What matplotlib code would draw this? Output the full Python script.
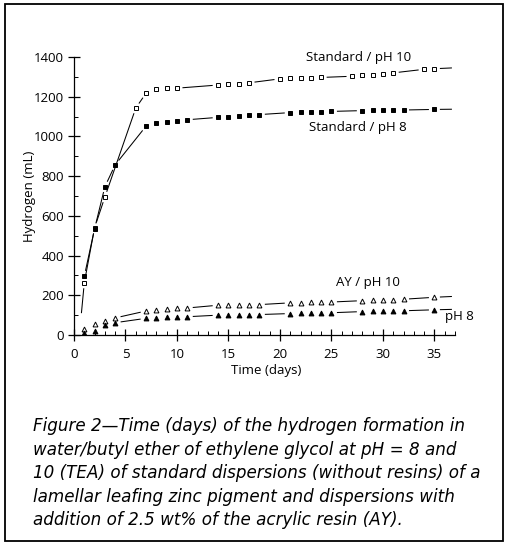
import numpy as np
import matplotlib
matplotlib.use("Agg")
import matplotlib.pyplot as plt
from matplotlib.patches import Rectangle
from matplotlib.ticker import MultipleLocator

# Hydrogen evolved (mL) versus time (days)
std10_day = [1, 2, 3, 6, 7, 8, 9, 10, 14, 15, 16, 17, 20, 21, 22, 23, 24,
             27, 28, 29, 30, 31, 34, 35]
std10 = [263, 540, 695, 1143, 1218, 1237, 1242, 1243, 1259, 1262, 1264, 1270,
         1290, 1292, 1292, 1293, 1297, 1303, 1307, 1310, 1315, 1320, 1338, 1341]

std8_day = [1, 2, 3, 4, 7, 8, 9, 10, 11, 14, 15, 16, 17, 18, 21, 22, 23, 24, 25,
            28, 29, 30, 31, 32, 35]
std8 = [296, 535, 747, 857, 1052, 1066, 1072, 1079, 1084, 1096, 1100, 1102,
        1108, 1110, 1120, 1122, 1122, 1124, 1126, 1130, 1133, 1135, 1133, 1133,
        1136]

ay_day = [1, 2, 3, 4, 7, 8, 9, 10, 11, 14, 15, 16, 17, 18, 21, 22, 23, 24, 25,
          28, 29, 30, 31, 32, 35]
ay10 = [32, 55, 72, 86, 121, 126, 131, 134, 136, 150, 150, 151, 152, 153,
        162, 163, 164, 165, 166, 173, 175, 176, 178, 180, 190]
ay8 = [8, 22, 49, 62, 84, 87, 89, 92, 92, 100, 101, 102, 102, 103,
       108, 109, 110, 111, 112, 118, 119, 120, 121, 122, 127]

# ends of the drawn trend curves beyond the measured points
curve_end_day = 36.7
curve_end = {"std10": 1345, "std8": 1137, "ay10": 194, "ay8": 129}
std10_curve_start = (0.72, 110)

x_ticks = [0, 5, 10, 15, 20, 25, 30, 35]
y_ticks = [0, 200, 400, 600, 800, 1000, 1200, 1400]

caption = [
    "Figure 2\u2014Time (days) of the hydrogen formation in",
    "water/butyl ether of ethylene glycol at pH = 8 and",
    "10 (TEA) of standard dispersions (without resins) of a",
    "lamellar leafing zinc pigment and dispersions with",
    "addition of 2.5 wt% of the acrylic resin (AY).",
]

W, H, DPI = 505, 544, 100
plt.rcParams["font.family"] = ["Open Sans", "DejaVu Sans"]

fig = plt.figure(figsize=(W / DPI, H / DPI), dpi=DPI)
ax = fig.add_axes([74 / W, 1 - 335 / H, 381 / W, 278 / H])
ax.set_xlim(0, 37)
ax.set_ylim(0, 1400)

for s in ("top", "right"):
    ax.spines[s].set_visible(False)
for s in ("left", "bottom"):
    ax.spines[s].set_linewidth(0.9)

ax.set_xticks(x_ticks)
ax.set_yticks(y_ticks)
ax.xaxis.set_minor_locator(MultipleLocator(1))
ax.yaxis.set_minor_locator(MultipleLocator(100))
ax.tick_params(which="major", direction="inout", length=8, width=0.9,
               labelsize=9.5, colors="black")
ax.tick_params(axis="x", which="major", pad=5)
ax.tick_params(axis="y", which="major", pad=3)
ax.tick_params(which="minor", direction="in", length=3, width=0.7)

fig.canvas.draw()


def gapped_line(xs, ys, gap=5.5, marked_start=True, marked_end=True):
    """Connect points with straight segments that stop short of each marker."""
    pts = ax.transData.transform(np.column_stack([xs, ys]).astype(float))
    inv = ax.transData.inverted()
    n = len(pts)
    for i in range(n - 1):
        p, q = pts[i], pts[i + 1]
        g0 = gap if (i > 0 or marked_start) else 0.0
        g1 = gap if (i + 1 < n - 1 or marked_end) else 0.0
        d = q - p
        L = float(np.hypot(d[0], d[1]))
        if L <= g0 + g1 + 1.5:
            continue
        u = d / L
        seg = inv.transform(np.array([p + u * g0, q - u * g1]))
        ax.plot(seg[:, 0], seg[:, 1], color="black", lw=0.75,
                solid_capstyle="butt")


gapped_line([std10_curve_start[0]] + std10_day + [curve_end_day],
            [std10_curve_start[1]] + std10 + [curve_end["std10"]],
            marked_start=False, marked_end=False)
gapped_line(std8_day + [curve_end_day], std8 + [curve_end["std8"]],
            marked_end=False)
gapped_line(ay_day + [curve_end_day], ay10 + [curve_end["ay10"]],
            marked_end=False)
gapped_line(ay_day + [curve_end_day], ay8 + [curve_end["ay8"]],
            marked_end=False)

ms = 3.5
ax.plot(std10_day, std10, ls="none", marker="s", ms=ms, mfc="white",
        mec="black", mew=0.7, zorder=3)
ax.plot(std8_day, std8, ls="none", marker="s", ms=ms, mfc="black",
        mec="black", mew=0.7, zorder=4)
ax.plot(ay_day, ay10, ls="none", marker="^", ms=ms, mfc="white",
        mec="black", mew=0.7, zorder=3)
ax.plot(ay_day, ay8, ls="none", marker="^", ms=ms, mfc="black",
        mec="black", mew=0.7, zorder=4)

ax.text(27.6, 1400, "Standard / pH 10", ha="center", va="center", fontsize=9.5)
ax.text(27.6, 1047, "Standard / pH 8", ha="center", va="center", fontsize=9.5)
ax.text(28.5, 262, "AY / pH 10", ha="center", va="center", fontsize=9.5)
ax.text(36.0, 91, "pH 8", ha="left", va="center", fontsize=9.5, clip_on=False)

ax.set_xlabel("Time (days)", fontsize=9.5)
ax.xaxis.set_label_coords(0.505, -0.105)
ax.set_ylabel("Hydrogen (mL)", fontsize=9.5)
ax.yaxis.set_label_coords(-0.10, 0.5)

# caption beneath the plot
for i, line in enumerate(caption):
    fig.text(33 / W, 1 - (431 + i * 23.6) / H, line, ha="left",
             va="baseline", fontsize=12.1, style="italic",
             family=["DejaVu Sans"])

# frame around the whole figure
fig.patches.append(Rectangle((4.5 / W, 3.5 / H), 498 / W, 537 / H,
                             transform=fig.transFigure, fill=False,
                             edgecolor="black", lw=1.3))

fig.savefig("out.png", dpi=DPI)
